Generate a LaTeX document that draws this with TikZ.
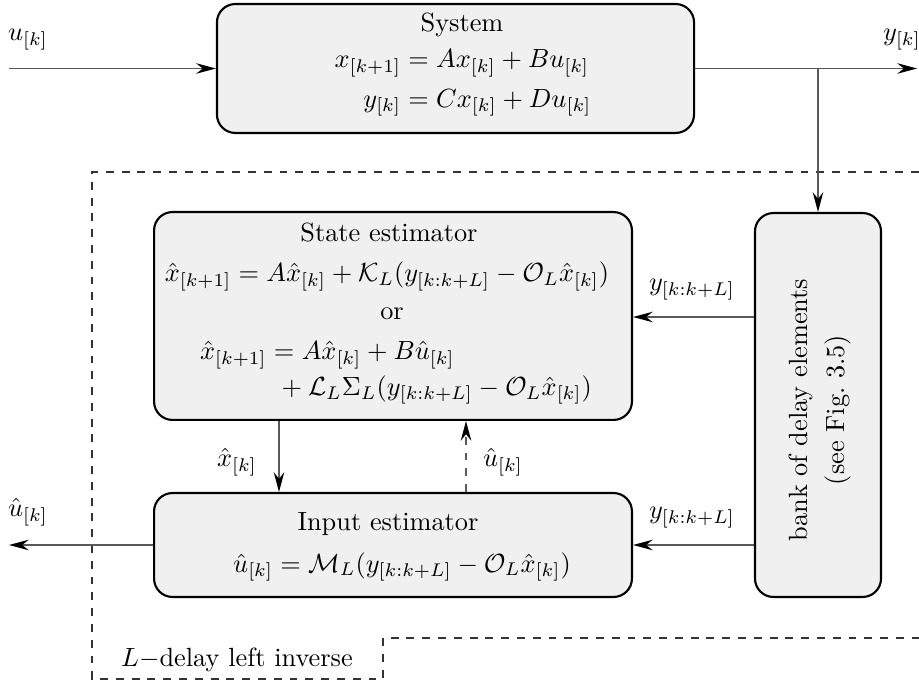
\documentclass[tikz,border=0pt]{standalone}
\usepackage{amsmath}
\usetikzlibrary{arrows.meta,calc}
\begin{document}
\begin{tikzpicture}[x=0.38pt,y=-0.38pt,
  block/.style={draw=black,line width=0.8pt,fill=black!6,rounded corners=7pt,inner sep=0pt},
  conn/.style={draw=black!65,line width=0.45pt,
    -{Stealth[length=7.5pt,width=4pt,inset=2.5pt,color=black]}},
  frame/.style={draw=black!80,line width=0.45pt,dashed},
  lbl/.style={inner sep=0pt}]
\useasboundingbox (0,0) rectangle (919,684);

% dashed outline of the L-delay left inverse
\draw[frame] (919,172) -- (92,172) -- (92,679) -- (383,679) -- (383,638) -- (919,638);
\node[lbl] (invlbl) at (237,660) {$L-$delay left inverse};

% blocks
\node[block,minimum width=181.3pt,minimum height=49pt] (sys) at (455.5,68.5) {};
\node[block,minimum width=181.6pt,minimum height=79pt] (state) at (393,316) {};
\node[block,minimum width=181.6pt,minimum height=39.5pt] (inp) at (393,545) {};
\node[block,minimum width=47.9pt,minimum height=145.9pt] (bank) at (818,405) {};

% block contents
\node[lbl,anchor=base] (systitle) at (462,32) {System};
\node[lbl] (syseq) at (463,81) {$\begin{aligned}
  x_{[k+1]} &= Ax_{[k]}+Bu_{[k]}\\
  y_{[k]} &= Cx_{[k]}+Du_{[k]}
\end{aligned}$};

\node[lbl,anchor=base] (sttitle) at (389,242) {State estimator};
\node[lbl,anchor=base] (steq) at (387,282)
  {$\hat x_{[k+1]} = A\hat x_{[k]} + \mathcal{K}_L(y_{[k:k+L]} - \mathcal{O}_L\hat x_{[k]})$};
\node[lbl,anchor=base] (stor) at (392,320) {or};
\node[lbl] (steqb) at (396,371) {$\begin{aligned}
  \hat x_{[k+1]} &= A\hat x_{[k]} + B\hat u_{[k]}\\[-1.5pt]
  &\hspace{3.5pt}+ \mathcal{L}_L\Sigma_L(y_{[k:k+L]} - \mathcal{O}_L\hat x_{[k]})
\end{aligned}$};

\node[lbl,anchor=base] (intitle) at (388,530) {Input estimator};
\node[lbl,anchor=base] (ineq) at (402,572)
  {$\hat u_{[k]} = \mathcal{M}_L(y_{[k:k+L]} - \mathcal{O}_L\hat x_{[k]})$};

\node[lbl,rotate=90,align=center] (banktxt) at (820,410)
  {bank of delay elements\\[1.7pt](see Fig.~3.5)};

% connector end points
\coordinate (uin) at (9,68.5);
\coordinate (yout) at (917,68.5);
\coordinate (tap) at (818,68.5);
\coordinate (uout) at (9,545);
\coordinate (xh) at (279,0);
\coordinate (uh) at (466,0);
\coordinate (yrow) at (0,317);

% connectors
\draw[conn] (uin) -- (sys.west);
\draw[conn] (sys.east) -- (yout);
\draw[conn] (tap) -- (bank.north);
\draw[conn] (bank.west |- yrow) -- (state.east |- yrow);
\draw[conn] (bank.west |- inp.east) -- (inp.east);
\draw[conn] (state.south -| xh) -- (inp.north -| xh);
\draw[conn,dashed] (inp.north -| uh) -- (state.south -| uh);
\draw[conn] (inp.west) -- (uout);

% signal labels
\node[lbl] (ulbl) at (28,40) {$u_{[k]}$};
\node[lbl] (ylbl) at (902,40) {$y_{[k]}$};
\node[lbl] (uhlbl) at (28,512) {$\hat u_{[k]}$};
\node[lbl] (xhlbl) at (237,462) {$\hat x_{[k]}$};
\node[lbl] (uhfb) at (503,462) {$\hat u_{[k]}$};
\node[lbl] (ywin) at (692,290) {$y_{[k:k+L]}$};
\node[lbl] (ywinb) at (692,518) {$y_{[k:k+L]}$};
\end{tikzpicture}
\end{document}
